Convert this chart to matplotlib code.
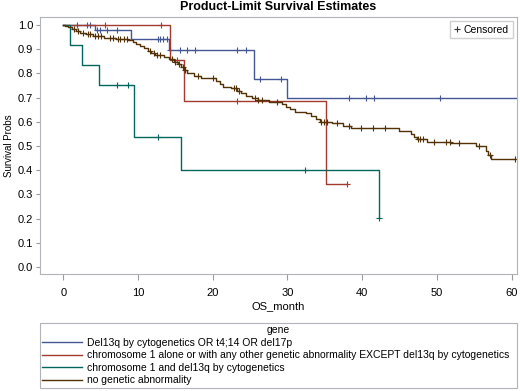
import numpy as np
import matplotlib
matplotlib.use("Agg")
import matplotlib.pyplot as plt
from matplotlib.lines import Line2D

plt.rcParams['font.family'] = ['Liberation Sans', 'DejaVu Sans']

# ---- data (months, survival after each drop) ----
labels = ["Del13q by cytogenetics OR t4;14 OR del17p",
          "chromosome 1 alone or with any other genetic abnormality EXCEPT del13q by cytogenetics",
          "chromosome 1 and del13q by cytogenetics",
          "no genetic abnormality"]
colors = ["#445694", "#A23A2E", "#01665E", "#543005"]

blue_t = [4.2, 9.1, 14.1, 25.5, 29.9]
blue_s = [0.979, 0.942, 0.897, 0.778, 0.700]
blue_end = 60.8
blue_cens = [1.9, 3.2, 3.6, 4.5, 4.9, 5.9, 7.2, 12.7, 12.9, 13.3, 13.9,
             14.3, 15.6, 16.5, 17.6, 23.2, 24.5, 26.3, 29.2, 38.3, 40.5, 41.6, 50.4]

red_t = [14.3, 16.1, 35.2]
red_s = [0.855, 0.686, 0.343]
red_end = 38.0
red_cens = [5.6, 13.1, 15.2, 23.2, 38.0]

teal_t = [0.9, 2.5, 4.8, 9.5, 15.8, 42.3]
teal_s = [0.917, 0.833, 0.750, 0.536, 0.402, 0.201]
teal_end = 42.3
teal_cens = [7.2, 8.7, 12.7, 32.4, 42.3]

brown_t = [0.3, 0.7, 1.2, 1.7, 2.3, 3.0, 4.0, 5.5, 7.0, 8.7, 9.3, 9.8, 10.3,
           10.8, 11.3, 11.7, 12.3, 13.5, 14.2, 14.8, 15.3, 15.8, 16.1, 16.5,
           17.5, 18.5, 20.5, 21.0, 21.4, 22.5, 23.3, 23.8, 24.5, 25.2, 26.0,
           27.5, 29.3, 29.8, 30.3, 31.0, 32.5, 33.2, 33.8, 34.3, 36.0, 37.5,
           38.5, 44.9, 46.6, 47.0, 47.3, 48.7, 51.9, 55.2, 56.6, 56.9, 57.2]
brown_s = [0.995, 0.99, 0.983, 0.976, 0.968, 0.962, 0.955, 0.948, 0.942, 0.936,
           0.928, 0.92, 0.912, 0.903, 0.893, 0.883, 0.876, 0.868, 0.858, 0.848,
           0.838, 0.825, 0.812, 0.80, 0.79, 0.78, 0.77, 0.758, 0.745, 0.738,
           0.728, 0.718, 0.708, 0.698, 0.69, 0.683, 0.672, 0.662, 0.652, 0.642,
           0.635, 0.625, 0.612, 0.60, 0.594, 0.582, 0.575, 0.563, 0.55, 0.538,
           0.528, 0.518, 0.511, 0.498, 0.48, 0.462, 0.446]
brown_end = 60.4
brown_cens = [1.5, 2.0, 2.6, 3.3, 3.6, 4.3, 4.7, 5.0, 6.2, 6.6, 7.3, 7.6, 8.2,
              8.5, 11.6, 12.1, 12.5, 13.0, 14.5, 15.0, 15.5, 16.0, 16.3, 18.0,
              20.0, 22.8, 23.1, 23.5, 25.6, 26.0, 26.6, 28.6, 34.5, 34.9, 35.3,
              36.6, 38.2, 39.8, 41.5, 43.0, 47.5, 47.8, 48.2, 49.6, 51.2, 51.8,
              53.0, 55.6, 57.1, 60.4]

groups = [(blue_t, blue_s, blue_end, blue_cens),
          (red_t, red_s, red_end, red_cens),
          (teal_t, teal_s, teal_end, teal_cens),
          (brown_t, brown_s, brown_end, brown_cens)]

fig = plt.figure(figsize=(5.2, 3.91), dpi=100)
ax = fig.add_axes([0.077, 0.2992, 0.917, 0.6573])

for (t, s, end, cens), col in zip(groups, colors):
    xs = [0] + list(t) + [end]
    ys = [1.0] + list(s) + [s[-1]]
    ax.plot(xs, ys, drawstyle='steps-post', color=col, lw=1.0)
    # survival at each censor time
    tt = np.array(t)
    ss = np.array([1.0] + list(s))
    cy = ss[np.searchsorted(tt, np.array(cens), side='right')]
    ax.plot(cens, cy, ls='none', marker='+', ms=5, mew=0.8, color=col)

ax.set_xlim(-3.1, 60.7)
ax.set_ylim(-0.029, 1.033)
ax.set_xticks(range(0, 61, 10))
ax.set_yticks(np.arange(0, 1.01, 0.1))
ax.set_yticklabels([f"{v:.1f}" for v in np.arange(0, 1.01, 0.1)])
ax.tick_params(labelsize=8, color='#9a9a9a', length=3, width=0.8, pad=2)
ax.tick_params(axis='x', length=4, pad=6)
for sp in ax.spines.values():
    sp.set_color('#b0b4b8')
    sp.set_linewidth(0.8)
ax.set_xlabel("OS_month", fontsize=8, labelpad=2)
ax.set_ylabel("Survival Probs", fontsize=7, labelpad=3)
ax.set_title("Product-Limit Survival Estimates", fontsize=9, fontweight='bold', pad=5)

cens_handle = Line2D([], [], ls='none', marker='+', ms=4, mew=0.8, color='#333333')
ax.legend([cens_handle], ["Censored"], loc='upper right', fontsize=7.5,
          handlelength=0.6, handletextpad=0.4, borderpad=0.35, fancybox=False,
          edgecolor='#d0d0d0', framealpha=1, borderaxespad=0.4)

handles = [Line2D([], [], color=c, lw=1.0) for c in colors]
leg = fig.legend(handles, labels, title="gene", loc='upper left',
                 bbox_to_anchor=(0.077, 0.0, 0.917, 0.174), mode='expand',
                 fontsize=7.5, title_fontsize=7.5, handlelength=3.8,
                 labelspacing=0.25, borderpad=0.2, handletextpad=0.5,
                 borderaxespad=0.0,
                 fancybox=False, edgecolor='#b0b4b8', framealpha=1)
leg.get_frame().set_linewidth(0.8)

fig.savefig("out.png", dpi=100)
